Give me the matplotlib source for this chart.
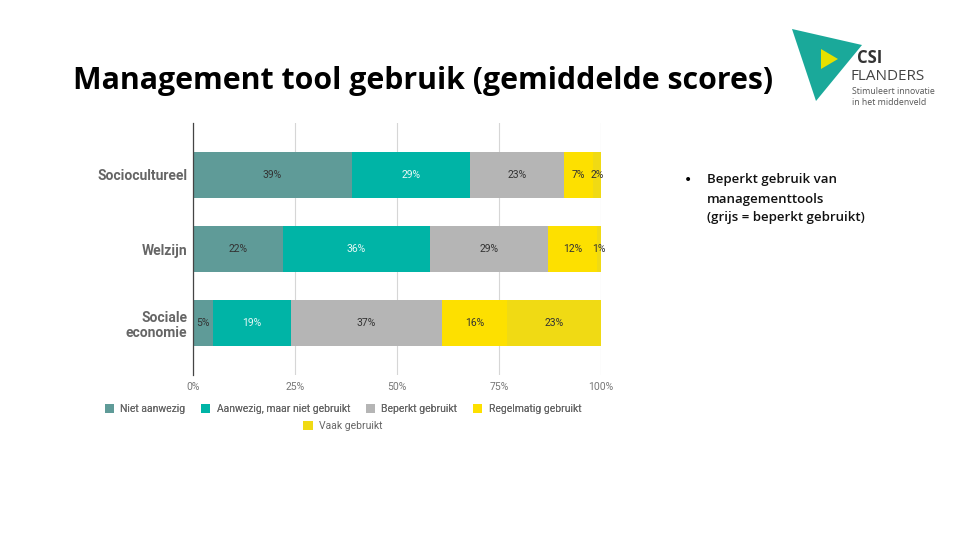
import numpy as np
import matplotlib.pyplot as plt
from matplotlib.patches import Polygon, Patch

# data
categories = ['Sociocultureel', 'Welzijn', 'Sociale\neconomie']
series_names = ['Niet aanwezig', 'Aanwezig, maar niet gebruikt', 'Beperkt gebruikt',
                'Regelmatig gebruikt', 'Vaak gebruikt']
niet_aanwezig = [39, 22, 5]
aanwezig_niet_gebruikt = [29, 36, 19]
beperkt = [23, 29, 37]
regelmatig = [7, 12, 16]
vaak = [2, 1, 23]
tick_values = [0, 25, 50, 75, 100]
tick_labels = ['0%', '25%', '50%', '75%', '100%']
bullet_lines = ['Beperkt gebruik van', 'managementtools', '(grijs = beperkt gebruikt)']

series = [niet_aanwezig, aanwezig_niet_gebruikt, beperkt, regelmatig, vaak]
colors = ['#5f9b98', '#00b4a6', '#b5b5b5', '#fde000', '#f0da14']
label_colors = ['#333333', '#e8f8f6', '#333333', '#333333', '#333333']

fig = plt.figure(figsize=(9.6, 5.4), dpi=100)
fig.patch.set_facecolor('white')

# title
fig.text(73 / 960, 1 - 81 / 540, 'Management tool gebruik (gemiddelde scores)',
         fontsize=21.8, fontweight='bold', family='Open Sans', va='center',
         ha='left', color='black')

# chart
ax = fig.add_axes([193 / 960, 1 - 375 / 540, 408 / 960, 252 / 540])
y = np.arange(len(categories))
left = np.zeros(len(categories))
for vals, col, lcol in zip(series, colors, label_colors):
    vals = np.array(vals, dtype=float)
    ax.barh(y, vals, left=left, height=0.63, color=col, edgecolor='none', zorder=2)
    for yi, (l, v) in enumerate(zip(left, vals)):
        ax.text(l + v / 2, yi, f'{int(v)}%', ha='center', va='center',
                fontsize=7.5, color=lcol, family='Roboto', zorder=3)
    left += vals

ax.set_xlim(0, 100)
ax.set_ylim(len(categories) - 1 + 0.7, -0.7)
ax.set_yticks(y)
ax.set_yticklabels(categories, fontsize=10, fontweight='bold', color='#666666',
                   family='Roboto', linespacing=1.1)
ax.set_xticks(tick_values)
ax.set_xticklabels(tick_labels, fontsize=7.5, color='#777777', family='Roboto')
ax.tick_params(axis='y', length=0, pad=4)
ax.tick_params(axis='x', length=0, pad=5)
ax.grid(axis='x', color='#d6d6d6', linewidth=0.8, zorder=0)
for s in ['top', 'right', 'bottom']:
    ax.spines[s].set_visible(False)
ax.spines['left'].set_color('#444444')
ax.spines['left'].set_linewidth(0.9)

# legend: four items on the first row, one centred below
handles = [Patch(facecolor=c, edgecolor='none') for c in colors]
leg_kw = dict(loc='center', frameon=False, prop={'family': 'Roboto', 'size': 7.5},
              labelcolor='#666666', handlelength=0.9, handleheight=0.9,
              handletextpad=0.6, columnspacing=1.5)
leg1 = fig.legend(handles[:4], series_names[:4], ncol=4,
                  bbox_to_anchor=(343 / 960, 1 - 409 / 540), **leg_kw)
fig.add_artist(leg1)
fig.legend(handles[4:], series_names[4:], ncol=1,
           bbox_to_anchor=(343 / 960, 1 - 426 / 540), **leg_kw)

# bullet text
fig.text(684 / 960, 1 - 180 / 540, '\u2022', fontsize=10, family='DejaVu Sans',
         va='center')
for i, line in enumerate(bullet_lines):
    fig.text(707 / 960, 1 - (180 + 19 * i) / 540, line, fontsize=9.5,
             fontweight='semibold', family='Open Sans', va='center', ha='left',
             color='#111111')

# logo
fig.patches.append(Polygon([[792 / 960, 1 - 29 / 540], [862 / 960, 1 - 45 / 540],
                            [816 / 960, 1 - 101 / 540]], closed=True,
                           transform=fig.transFigure, facecolor='#1aa99a',
                           edgecolor='none'))
fig.patches.append(Polygon([[821 / 960, 1 - 49 / 540], [838 / 960, 1 - 59 / 540],
                            [821 / 960, 1 - 69 / 540]], closed=True,
                           transform=fig.transFigure, facecolor='#e6e000',
                           edgecolor='none'))
fig.text(857 / 960, 1 - 58 / 540, 'CSI', fontsize=12, fontweight='bold',
         family='Open Sans', va='center', color='#333333')
fig.text(851 / 960, 1 - 77 / 540, 'FLANDERS', fontsize=11, family='Open Sans',
         va='center', color='#444444')
fig.text(852 / 960, 1 - 97 / 540, 'Stimuleert innovatie\nin het middenveld',
         fontsize=6.3, family='Open Sans', va='center', color='#555555',
         linespacing=1.2)

fig.savefig('out.png', dpi=100)
